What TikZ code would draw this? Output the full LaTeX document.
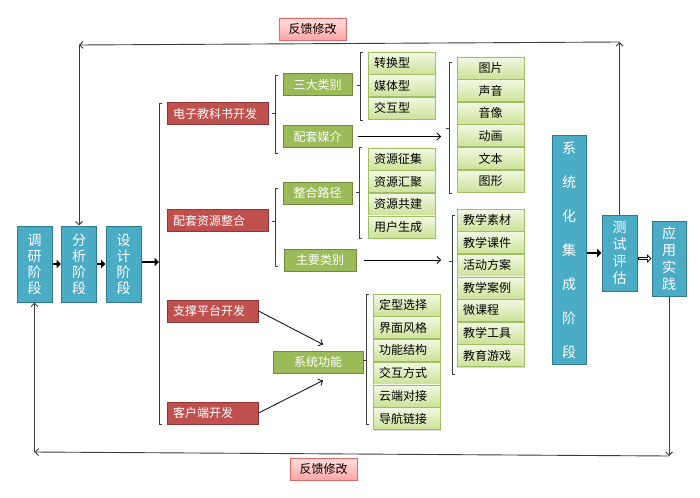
\documentclass[tikz,border=0pt]{standalone}
\usepackage{fontspec}
\setmainfont{Noto Sans CJK SC}
\usetikzlibrary{arrows.meta,shadows}
\definecolor{stageblue}{RGB}{75,172,198}
\definecolor{stageline}{RGB}{49,122,143}
\definecolor{taskred}{RGB}{192,80,77}
\definecolor{taskline}{RGB}{140,56,54}
\definecolor{partgreen}{RGB}{155,187,89}
\definecolor{partline}{RGB}{113,137,63}
\definecolor{itemtop}{RGB}{242,248,228}
\definecolor{itembot}{RGB}{204,226,152}
\definecolor{itemline}{RGB}{160,190,100}
\definecolor{fbtop}{RGB}{255,222,222}
\definecolor{fbbot}{RGB}{255,165,165}
\definecolor{fbline}{RGB}{225,105,105}
\definecolor{linegray}{RGB}{60,60,60}
\tikzset{
	stage/.style={shape=rectangle, draw=stageline, fill=stageblue, line width=1pt, text=white, align=center, inner sep=0pt, minimum width=35pt, font=\fontsize{14}{16}\selectfont},
	task/.style={shape=rectangle, draw=taskline, fill=taskred, line width=1pt, text=white, minimum height=22pt, inner xsep=6pt, inner ysep=0pt, text width=#1, align=left, font=\fontsize{12}{14}\selectfont},
	part/.style={shape=rectangle, draw=partline, fill=partgreen, line width=1pt, text=white, minimum height=22pt, minimum width=#1, inner sep=0pt, font=\fontsize{12}{14}\selectfont},
	item/.style={shape=rectangle, draw=itemline, top color=itemtop, bottom color=itembot, line width=0.6pt, minimum width=67pt, minimum height=22pt, inner sep=0pt, font=\fontsize{12}{14}\selectfont, drop shadow={opacity=0.3, shadow xshift=1.2pt, shadow yshift=-1.2pt}},
	itemleft/.style={item, inner xsep=6pt, text width=55pt, align=left},
	fbbox/.style={shape=rectangle, draw=fbline, top color=fbtop, bottom color=fbbot, line width=0.8pt, minimum width=67pt, minimum height=22pt, inner sep=0pt, font=\fontsize{12}{14}\selectfont, drop shadow={opacity=0.25, shadow xshift=1pt, shadow yshift=-1pt}},
	thin/.style={line width=0.8pt, -{Straight Barb[length=3.5pt, width=7pt]}},
	fb/.style={thin, draw=linegray, line width=0.9pt},
	brk/.style={draw=linegray, line width=0.8pt},
	fat/.style={line width=2.4pt, -{Triangle[length=4.5pt, width=8.5pt]}},
}
\newcommand{\bracketat}[4]{\draw[brk] ({#1+3},#2) -- (#1,#2) -- (#1,#3) -- ({#1+3},#3) (#1,#4) -- ({#1-3},#4);}
\begin{document}
\begin{tikzpicture}[x=1pt, y=-1pt]
	\useasboundingbox (0,0) rectangle (700,497);
	\node[stage, minimum height=76pt](S1) at (34.5, 264){调\\研\\阶\\段};
	\node[stage, minimum height=76pt](S2) at (79, 264){分\\析\\阶\\段};
	\node[stage, minimum height=76pt](S3) at (123.5, 264){设\\计\\阶\\段};
	\node[stage, minimum width=34pt, minimum height=228pt, font=\fontsize{14}{34}\selectfont](S4) at (569, 250){系\\统\\化\\集\\成\\阶\\段};
	\node[stage, minimum height=76pt, font=\fontsize{14}{17}\selectfont](S5) at (619.5, 253){测\\试\\评\\估};
	\node[stage, minimum width=34pt, minimum height=75pt, font=\fontsize{14}{17}\selectfont](S6) at (669, 258.5){应\\用\\实\\践};
	\node[task=89pt](R1) at (217.5, 113.5){电子教科书开发};
	\node[task=89pt](R2) at (217.5, 220.5){配套资源整合};
	\node[task=79pt](R3) at (212.5, 311){支撑平台开发};
	\node[task=79pt](R4) at (212.5, 413){客户端开发};
	\node[part=69pt](G1) at (317.5, 84.5){三大类别};
	\node[part=69pt](G2) at (317.5, 136.5){配套媒介};
	\node[part=69pt](G3) at (317.5, 193){整合路径};
	\node[part=72pt](G4) at (320, 260){主要类别};
	\node[part=90pt](G5) at (318, 362){系统功能};
	\foreach \t [count=\i] in {转换型, 媒体型, 交互型}
		\node[itemleft](A\i) at (401.5, {63+(\i-1)*22.6}){\t};
	\foreach \t [count=\i] in {资源征集, 资源汇聚, 资源共建, 用户生成}
		\node[itemleft](B\i) at (401.5, {159+(\i-1)*22.6}){\t};
	\foreach \t [count=\i] in {图片, 声音, 音像, 动画, 文本, 图形}
		\node[item](C\i) at (490.5, {68+(\i-1)*22.6}){\t};
	\foreach \t [count=\i] in {教学素材, 教学课件, 活动方案, 教学案例, 微课程, 教学工具, 教育游戏}
		\node[itemleft](D\i) at (490.5, {220+(\i-1)*22.6}){\t};
	\foreach \t [count=\i] in {定型选择, 界面风格, 功能结构, 交互方式, 云端对接, 导航链接}
		\node[itemleft](E\i) at (406.5, {305+(\i-1)*22.7}){\t};
	\node[fbbox](F1) at (312.5, 29){反馈修改};
	\node[fbbox](F2) at (323.5, 469){反馈修改};
	\coordinate (M0) at (159, 262);
	\coordinate (M1) at (441, 136.5);
	\coordinate (M2) at (441, 260);
	\coordinate (C1) at (619.5, 42);
	\coordinate (C2) at (79, 45);
	\coordinate (C3) at (669, 456);
	\coordinate (C4) at (34.5, 452);
	\draw[brk] (162, 103) -- (159, 103) -- (159, 424) -- (162, 424);
	\bracketat{275}{75}{153}{113.5}
	\bracketat{275}{188}{266}{221}
	\bracketat{360}{52}{120}{85}
	\bracketat{359}{147}{238}{192}
	\bracketat{449}{62}{193}{128}
	\bracketat{452}{215}{374}{261}
	\bracketat{366}{294}{424}{360}
	\draw[fat] (S1) -- (S2);
	\draw[fat] (S2) -- (S3);
	\draw[fat] (S3.east |- M0) -- (M0);
	\draw[fat] (S4.east |- S5.west) -- (S5.west);
	\draw[fat] (S5.east |- S6.west) -- (S6.west);
	\draw[white, line width=0.8pt, -{Triangle[length=2.2pt, width=4pt]}, shorten <=1.2pt, shorten >=1.4pt] (S5.east |- S6.west) -- (S6.west);
	\draw[thin, shorten <=5pt] (G2.east) -- (M1);
	\draw[thin, shorten <=7pt] (G4.east) -- (M2);
	\draw[thin] (R3.east) -- ([xshift=5pt, yshift=6pt]G5.north);
	\draw[thin] (R4.east) -- ([xshift=5pt, yshift=-7pt]G5.south);
	\draw[fb] (S5.north) -- (C1);
	\draw[fb] (C1) -- (C2);
	\draw[fb] (C2) -- (S2.north);
	\draw[fb] (S6.south) -- (C3);
	\draw[fb] (C3) -- (C4);
	\draw[fb] (C4) -- (S1.south);
\end{tikzpicture}
\end{document}
